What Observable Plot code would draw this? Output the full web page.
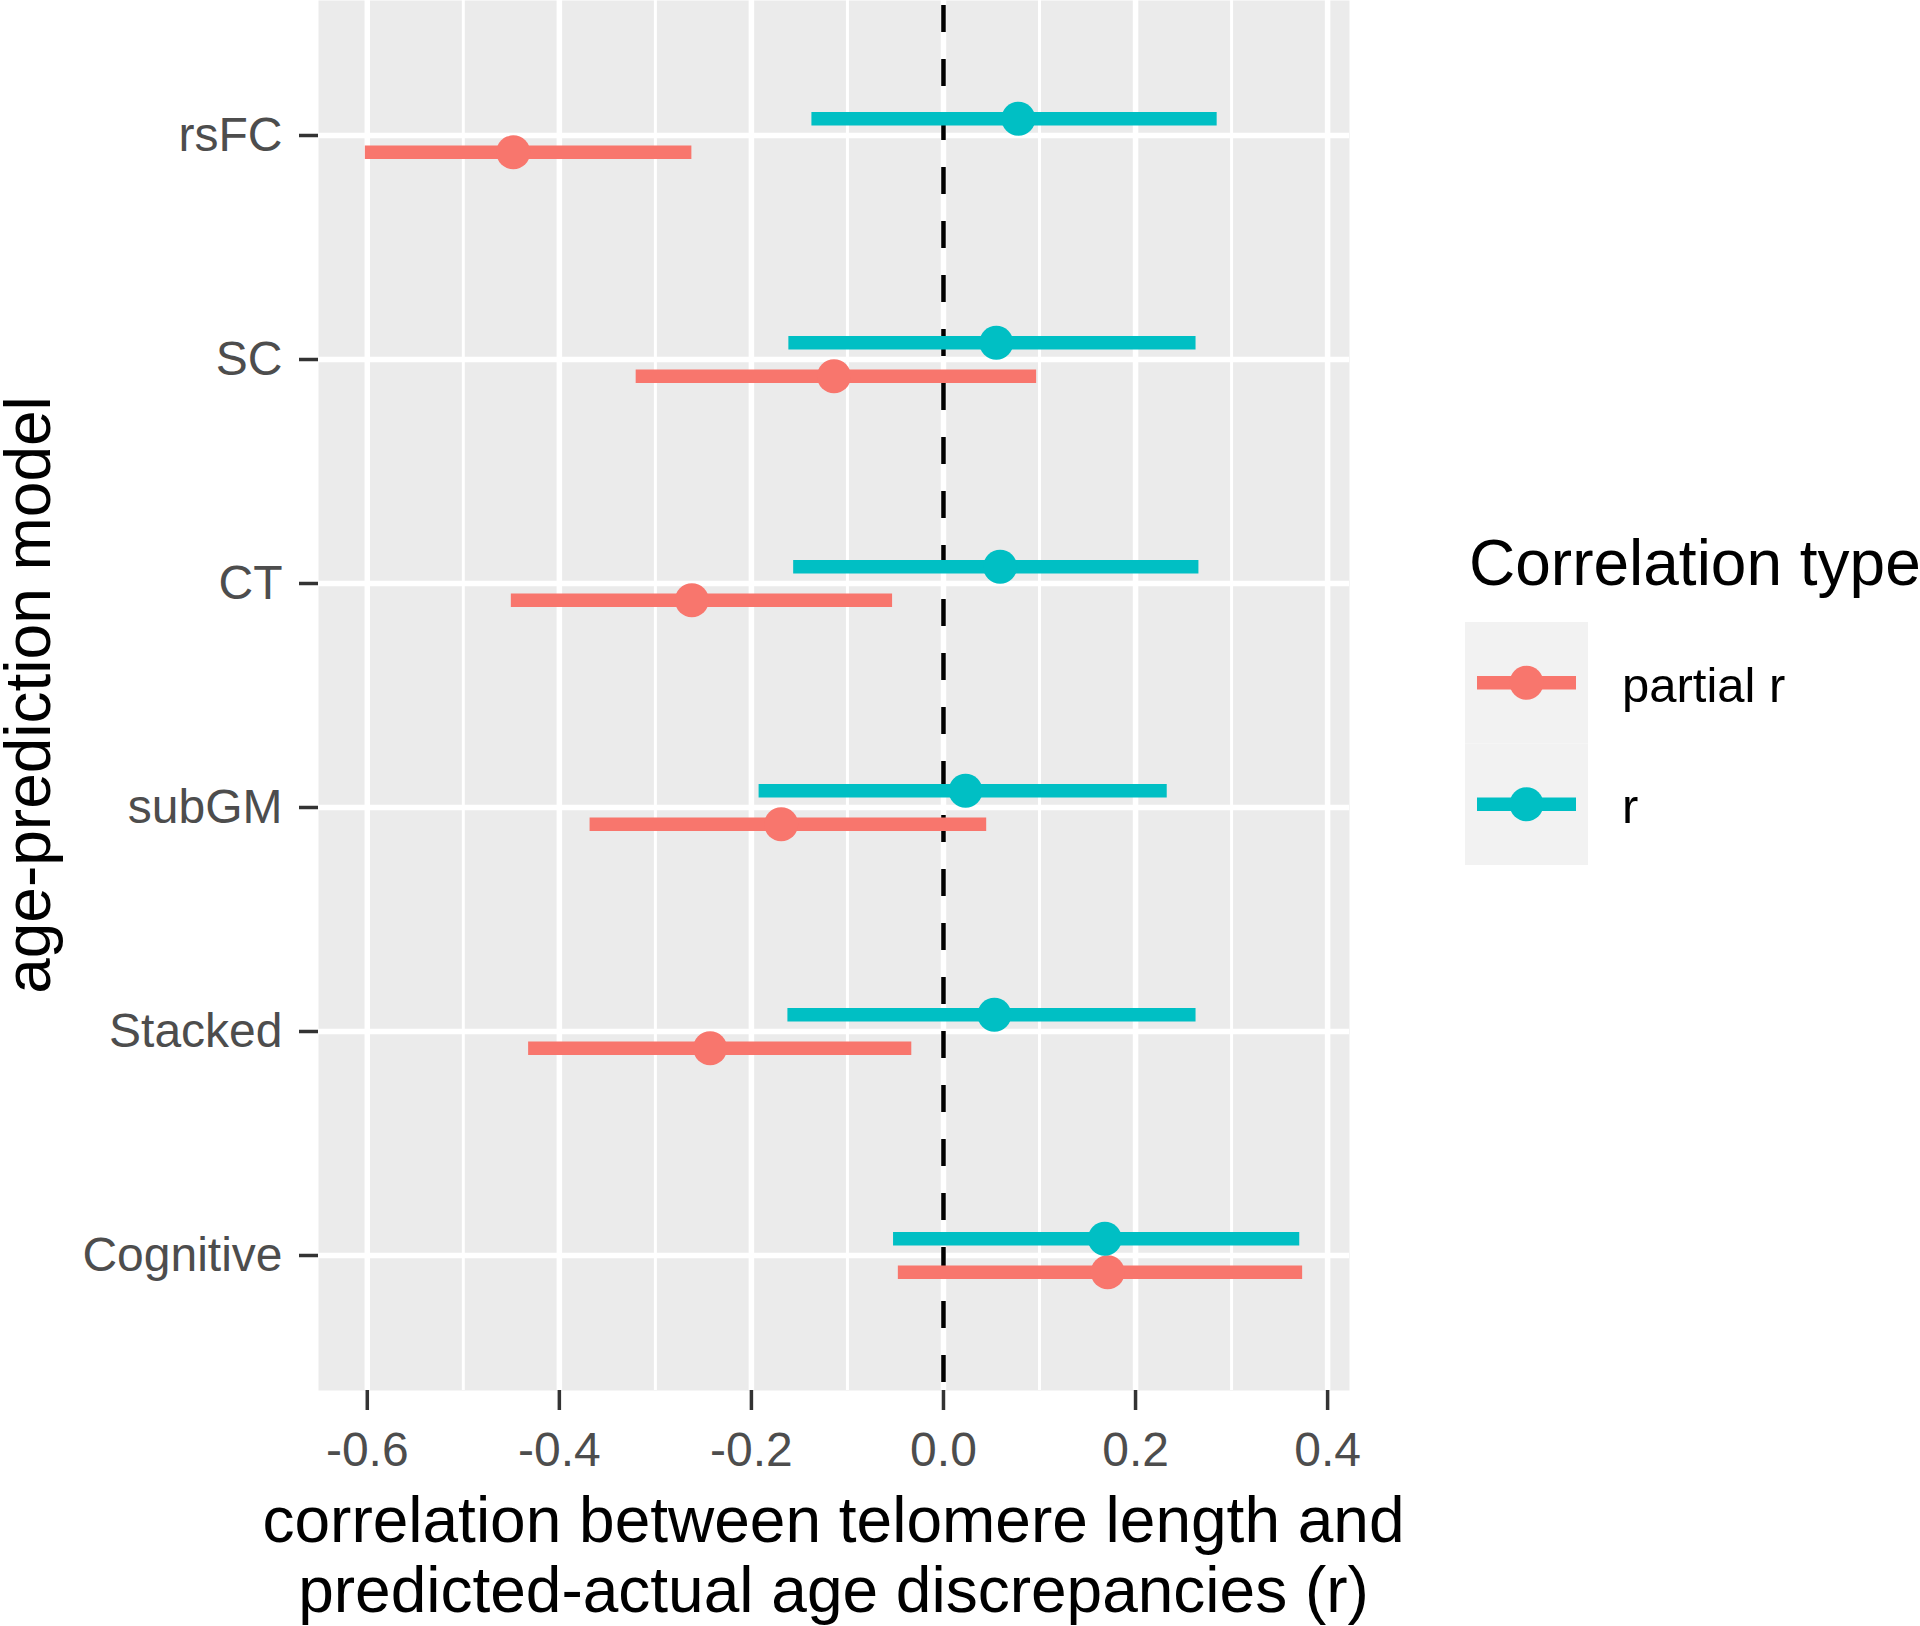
<!DOCTYPE html>
<html><head><meta charset="utf-8">
<script src="https://cdn.jsdelivr.net/npm/d3@7"></script>
<script src="https://cdn.jsdelivr.net/npm/@observablehq/plot@0.6"></script>
<style>
html,body{margin:0;padding:0;background:#fff;}
#chart{width:1920px;height:1626px;position:relative;overflow:hidden;}
</style>
</head><body><div id="chart"></div>
<script>
// ---- data ----
const models = ["rsFC", "SC", "CT", "subGM", "Stacked", "Cognitive"];
const types = ["partial r", "r"];
const colors = ["#F8766D", "#00BFC4"];
const partialEst = [-0.448, -0.114, -0.262, -0.169, -0.243, 0.171];
const partialLo  = [-0.602, -0.320, -0.450, -0.368, -0.432, -0.047];
const partialHi  = [-0.262,  0.097, -0.053,  0.045, -0.033,  0.374];
const rEst = [0.078, 0.055, 0.059, 0.023, 0.053, 0.168];
const rLo  = [-0.137, -0.161, -0.156, -0.192, -0.162, -0.052];
const rHi  = [0.285, 0.263, 0.266, 0.233, 0.263, 0.371];
const majorTicks = [-0.6, -0.4, -0.2, 0.0, 0.2, 0.4];
const minorTicks = [-0.5, -0.3, -0.1, 0.1, 0.3];
const xTitle = ["correlation between telomere length and", "predicted-actual age discrepancies (r)"];
const yTitle = "age-prediction model";
const legendTitle = "Correlation type";

// ---- build table ----
const rows = [];
models.forEach((m, i) => {
  rows.push({model: m, type: types[0], est: partialEst[i], lo: partialLo[i], hi: partialHi[i]});
  rows.push({model: m, type: types[1], est: rEst[i], lo: rLo[i], hi: rHi[i]});
});
const lo = d3.min(rows, d => d.lo), hi = d3.max(rows, d => d.hi);
const ex = 0.05 * (hi - lo);

// ---- layout ----
const W = 1920, H = 1626;
const mL = 318, mR = 571, mT = 0, mB = 236;
const pad = 0.6, dodge = 0.3;
const step = (H - mT - mB) / (models.length - 1 + 2 * pad);
const off = dodge / 4 * step;
const font = "'Liberation Sans', Arial, Helvetica, sans-serif";

const partialRows = rows.filter(d => d.type === types[0]);
const rRows = rows.filter(d => d.type === types[1]);

const svg = Plot.plot({
  width: W, height: H,
  marginLeft: mL, marginRight: mR, marginTop: mT, marginBottom: mB,
  style: {fontFamily: font, background: "white", overflow: "visible"},
  x: {domain: [lo - ex, hi + ex]},
  y: {type: "point", domain: models, padding: pad},
  color: {domain: types, range: colors},
  marks: [
    Plot.frame({fill: "#EBEBEB", stroke: "none"}),
    Plot.ruleX(minorTicks, {stroke: "white", strokeWidth: 3}),
    Plot.ruleX(majorTicks, {stroke: "white", strokeWidth: 5.5}),
    Plot.ruleY(models, {stroke: "white", strokeWidth: 5.5}),
    Plot.ruleX([0], {stroke: "black", strokeWidth: 4.5, strokeDasharray: "27,27", strokeDashoffset: 49}),
    Plot.ruleY(partialRows, {y: "model", x1: "lo", x2: "hi", stroke: "type", strokeWidth: 13.5, dy: off}),
    Plot.ruleY(rRows, {y: "model", x1: "lo", x2: "hi", stroke: "type", strokeWidth: 13.5, dy: -off}),
    Plot.dot(partialRows, {x: "est", y: "model", fill: "type", r: 17, stroke: "none", dy: off}),
    Plot.dot(rRows, {x: "est", y: "model", fill: "type", r: 17, stroke: "none", dy: -off}),
    Plot.axisX({ticks: majorTicks, tickSize: 20, tickPadding: 21, fontSize: 48, color: "#4D4D4D",
                stroke: "#333333", strokeWidth: 3.5, tickFormat: d => d.toFixed(1), label: null}),
    Plot.axisY({tickSize: 19, tickPadding: 17, fontSize: 48, color: "#4D4D4D",
                stroke: "#333333", strokeWidth: 3.5, label: null})
  ]
});

const s = d3.select(svg);
// axis titles
const xt = s.append("text").attr("font-family", font).attr("font-size", 64).attr("fill", "black")
  .attr("text-anchor", "middle");
const cx = (mL + (W - mR)) / 2;
xTitle.forEach((t, i) => {
  xt.append("tspan").attr("x", cx).attr("y", 1542 + i * 70).text(t);
});
s.append("text").attr("font-family", font).attr("font-size", 64).attr("fill", "black")
  .attr("text-anchor", "middle")
  .attr("transform", `translate(50,${(mT + (H - mB)) / 2}) rotate(-90)`)
  .text(yTitle);

// legend
const lg = s.append("g").attr("font-family", font).attr("text-anchor", "start");
lg.append("text").attr("x", 1469).attr("y", 585).attr("font-size", 64).attr("fill", "black")
  .attr("text-anchor", "start").text(legendTitle);
const keyX = 1465, keyY = 622, keyW = 123, keyH = 121.5;
types.forEach((t, i) => {
  const y0 = keyY + i * keyH;
  lg.append("rect").attr("x", keyX).attr("y", y0).attr("width", keyW).attr("height", keyH).attr("fill", "#F2F2F2");
  const cy = y0 + keyH / 2;
  lg.append("line").attr("x1", keyX + 12).attr("x2", keyX + keyW - 12).attr("y1", cy).attr("y2", cy)
    .attr("stroke", colors[i]).attr("stroke-width", 13.5);
  lg.append("circle").attr("cx", keyX + keyW / 2).attr("cy", cy).attr("r", 17).attr("fill", colors[i]);
  lg.append("text").attr("x", 1622).attr("y", cy + 19).attr("font-size", 49).attr("fill", "black")
    .attr("text-anchor", "start").text(t);
});

document.getElementById("chart").appendChild(svg);
</script>
</body></html>
